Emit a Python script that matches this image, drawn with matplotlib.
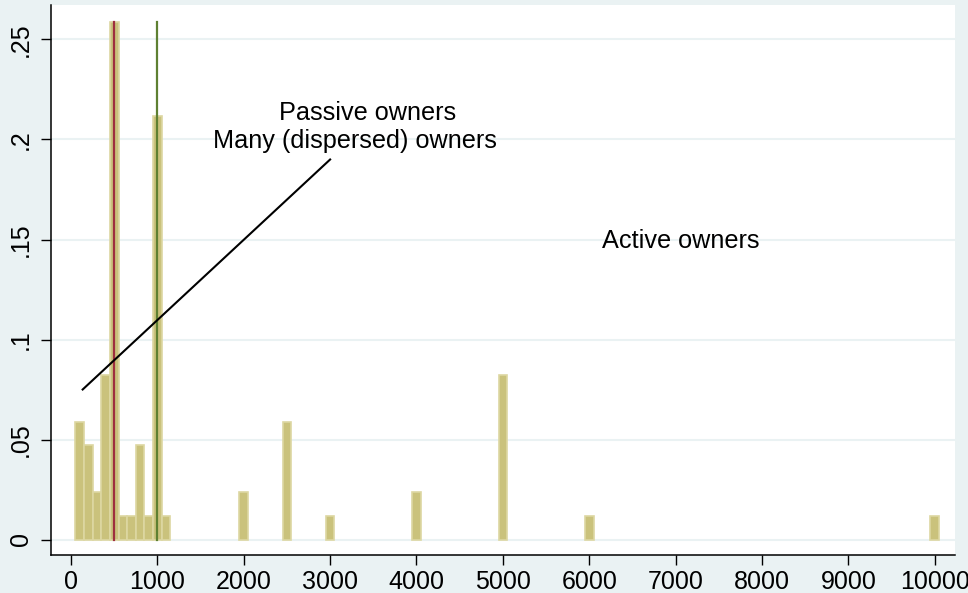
import matplotlib
matplotlib.use("Agg")
import matplotlib.pyplot as plt

# Data
bin_centers = [100, 200, 300, 400, 500, 600, 700, 800, 900, 1000, 1100,
               2000, 2500, 3000, 4000, 5000, 6000, 10000]
counts = [5, 4, 2, 7, 22, 1, 1, 4, 1, 18, 1,
          2, 5, 1, 2, 7, 1, 1]
total = sum(counts)
fractions = [c / total for c in counts]

xticks = [0, 1000, 2000, 3000, 4000, 5000, 6000, 7000, 8000, 9000, 10000]
yticks = [0, 0.05, 0.1, 0.15, 0.2, 0.25]
ytick_labels = ["0", ".05", ".1", ".15", ".2", ".25"]

passive_x = 500
active_x = 1000
line_top = max(fractions)

diag_x = [135, 3000]
diag_y = [0.075, 0.19]

plt.rcParams['font.family'] = ['Liberation Sans', 'DejaVu Sans']

bg = '#EAF2F3'
fig = plt.figure(figsize=(9.68, 5.93), dpi=100, facecolor=bg)
ax = fig.add_axes([51 / 968, 1 - 554.5 / 593, (955 - 51) / 968, (554.5 - 5) / 593])
ax.set_facecolor('white')

ax.set_xlim(-231.6, 10235)
ax.set_ylim(-0.0075, 0.26725)

for yt in yticks:
    ax.axhline(yt, color=bg, lw=1.5, zorder=0)

ax.bar(bin_centers, fractions, width=100, color='#CAC27C', edgecolor='#DDD7A2',
       linewidth=1.2, zorder=2)

ax.plot([passive_x, passive_x], [0, line_top], color='#9E2F3E', lw=1.6, zorder=3)
ax.plot([active_x, active_x], [0, line_top], color='#5E8032', lw=1.6, zorder=3)
ax.plot(diag_x, diag_y, color='black', lw=1.5, zorder=4)

fs_txt = 18.2
ax.text(3435, 0.2098, "Passive owners", ha='center', va='baseline', fontsize=fs_txt)
ax.text(3293, 0.1958, "Many (dispersed) owners", ha='center', va='baseline', fontsize=fs_txt)
ax.text(7060, 0.1455, "Active owners", ha='center', va='baseline', fontsize=fs_txt)

ax.set_xticks(xticks)
ax.set_xticklabels([str(x) for x in xticks], fontsize=18)
ax.set_yticks(yticks)
ax.set_yticklabels(ytick_labels, fontsize=18, rotation=90, va='center')
ax.tick_params(direction='out', length=7, width=1, color='black')
ax.tick_params(axis='y', pad=6)
ax.tick_params(axis='x', pad=4)

for s in ['top', 'right']:
    ax.spines[s].set_visible(False)
for s in ['left', 'bottom']:
    ax.spines[s].set_linewidth(1.1)
    ax.spines[s].set_color('black')

fig.savefig('out.png', dpi=100, facecolor=bg)
